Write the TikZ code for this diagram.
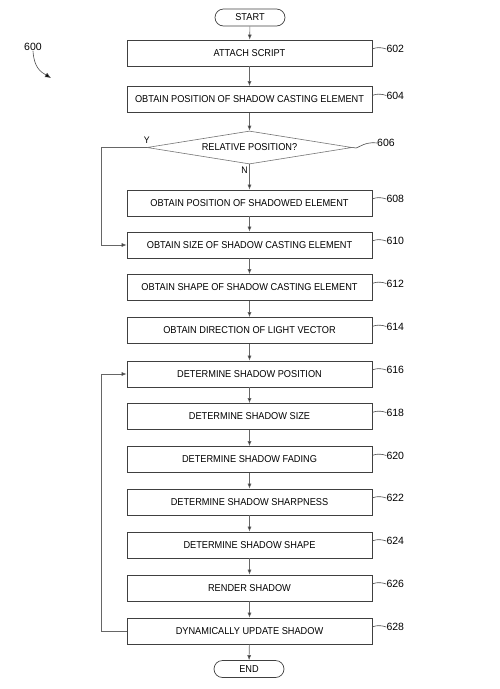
\documentclass[tikz,border=0pt]{standalone}
\usepackage{fontspec}
\setmainfont{Liberation Sans}
\newfontfamily\narrowfont[FakeStretch=0.92]{Liberation Sans}
\usetikzlibrary{arrows.meta,calc,shapes.geometric}

\begin{document}
\begin{tikzpicture}[x=1pt, y=-1pt,
  stepbox/.style={draw=black!75, line width=0.7pt, minimum width=245pt, minimum height=26pt, inner sep=0pt, font=\narrowfont\fontsize{10}{11}\selectfont},
  termbox/.style={draw=black!75, line width=0.7pt, rounded corners=8.5pt, minimum width=70pt, minimum height=17pt, inner sep=0pt, font=\narrowfont\fontsize{10}{11}\selectfont},
  testbox/.style={draw=black!55, line width=0.6pt, diamond, aspect=6.2, minimum width=205pt, minimum height=33pt, inner sep=0pt, font=\narrowfont\fontsize{10}{11}\selectfont},
  flow/.style={draw=black!60, line width=0.6pt, -{Latex[length=5pt,width=4pt,fill=black!85]}},
  tag/.style={draw=black!70, line width=0.6pt},
  num/.style={inner sep=0pt, font=\fontsize{10.5}{12}\selectfont},
  lbl/.style={inner sep=1.5pt, font=\narrowfont\fontsize{9.5}{10}\selectfont}]
\useasboundingbox (0,0) rectangle (499,689);

% terminals and decision
\node[termbox] (start) at (250,17.5) {START};
\node[termbox] (end) at (249,669) {END};
\node[testbox] (d606) at (249.5,147.5) {RELATIVE POSITION?};

% process steps
\foreach \n/\y/\t in {602/53/ATTACH SCRIPT, 604/99.5/OBTAIN POSITION OF SHADOW CASTING ELEMENT,
  608/203/OBTAIN POSITION OF SHADOWED ELEMENT, 610/245/OBTAIN SIZE OF SHADOW CASTING ELEMENT,
  612/287.5/OBTAIN SHAPE OF SHADOW CASTING ELEMENT, 614/330.5/OBTAIN DIRECTION OF LIGHT VECTOR,
  616/374/DETERMINE SHADOW POSITION, 618/416.5/DETERMINE SHADOW SIZE,
  620/459.5/DETERMINE SHADOW FADING, 622/502/DETERMINE SHADOW SHARPNESS,
  624/545/DETERMINE SHADOW SHAPE, 626/588/RENDER SHADOW,
  628/631/DYNAMICALLY UPDATE SHADOW} {
  \node[stepbox] (b\n) at (249.5,\y) {\t};
  \node[num, anchor=west] (l\n) at ($(b\n.east)+(14,-4)$) {\n};
  \draw[tag] ([yshift=4pt]b\n.east) .. controls ($(b\n.east)+(0,-4)$) and ($(b\n.east)+(5,-7)$) .. (l\n.west);
}

% reference numeral of decision
\node[num, anchor=west] (l606) at (377,143) {606};
\draw[tag] (d606.east) .. controls (357,151) and (362,141) .. (l606.west);

% figure numeral
\node[num] (n600) at (33,47) {600};
\coordinate (p600) at (51,78);
\draw[tag, -{Latex[length=6pt,width=5pt,fill=black]}] (n600.south) .. controls (34,68) and (41,72) .. (p600);

% main flow
\foreach \a/\b in {start/b602, b602/b604, b604/d606, b608/b610, b610/b612, b612/b614,
  b614/b616, b616/b618, b618/b620, b620/b622, b622/b624, b624/b626, b626/b628, b628/end}
  \draw[flow] (\a) -- (\b);
\draw[flow] (d606.south) -- node[near start, left, lbl] {N} (b608.north);

% Y branch and update loop
\draw[flow] (d606.west) node[above, lbl, yshift=2pt] {Y} -- ++(-45,0) |- (b610.west);
\draw[flow] (b628.west) -- ++(-25,0) |- (b616.west);
\end{tikzpicture}
\end{document}
